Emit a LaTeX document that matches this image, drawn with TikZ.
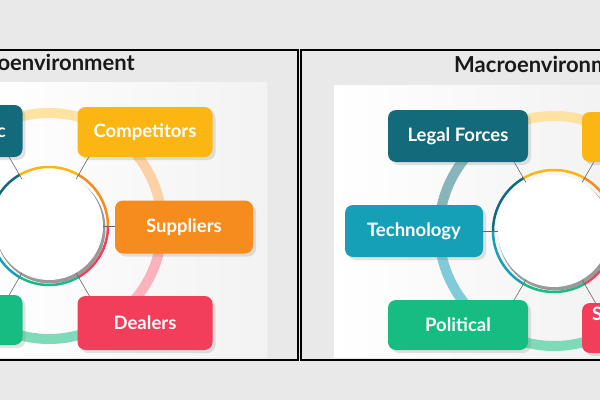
\documentclass[tikz,border=0pt]{standalone}
\usepackage{fontspec}
\setmainfont{Lato}
\usepackage{xcolor}
\usepackage{tikz}
\usetikzlibrary{shadows}

\definecolor{tealdark}{RGB}{18,106,122}
\definecolor{sunyellow}{RGB}{252,182,20}
\definecolor{orangebox}{RGB}{246,140,30}
\definecolor{redbox}{RGB}{242,62,90}
\definecolor{greenbox}{RGB}{22,188,130}
\definecolor{cyanbox}{RGB}{22,160,183}
\definecolor{bggray}{RGB}{233,233,233}

\begin{document}
\begin{tikzpicture}[x=1pt, y=1pt,
    box/.style = {rounded corners=8pt, minimum width=140pt, minimum height=52pt, inner sep=0pt,
                  text=white, font=\fontsize{18.5}{20}\selectfont\bfseries,
                  drop shadow={opacity=0.22, shadow xshift=3pt, shadow yshift=-3pt}},
    boxtext/.style = {text=white, font=\fontsize{18.5}{20}\selectfont\bfseries, inner sep=0pt},
    ring/.style = {line width=10pt},
    band/.style = {line width=2.5pt},
    link/.style = {draw=black!60, line width=0.6pt},
    hub/.style = {circle, fill=white, inner sep=0pt},
    frame/.style = {draw=black, line width=1.5pt, fill=bggray},
    title/.style = {font=\fontsize{22}{24}\selectfont\bfseries, text=black!90, inner sep=0pt}]
    \useasboundingbox (0,0) rectangle (600,400);
    \fill[bggray] (0,0) rectangle (600,400);

    % the two panels
    \draw[frame] (-10,40) rectangle (298,350);
    \draw[frame] (301,40) rectangle (610,350);
    \shade[left color=white, right color=black!5] (-10,43) rectangle (267,318);
    \shade[left color=white, right color=black!5] (334,43) rectangle (610,315);
    \node[title, anchor=base east] (titleL) at (135,330) {oenvironment};
    \node[title, anchor=base west] (titleR) at (454,327) {Macroenvironm};

    % left panel
    \coordinate (cL) at (49,174);
    \draw[ring, sunyellow!40] ([shift={(135:113)}]cL) arc[start angle=135, end angle=45, radius=113];
    \draw[ring, orangebox!40] ([shift={(45:113)}]cL) arc[start angle=45, end angle=0, radius=113];
    \draw[ring, redbox!40] ([shift={(0:113)}]cL) arc[start angle=0, end angle=-45, radius=113];
    \draw[ring, greenbox!55] ([shift={(-45:113)}]cL) arc[start angle=-45, end angle=-135, radius=113];
    \draw[ring, cyanbox!55] ([shift={(-135:113)}]cL) arc[start angle=-135, end angle=-180, radius=113];
    \draw[ring, tealdark!50] ([shift={(180:113)}]cL) arc[start angle=180, end angle=135, radius=113];
    \draw[band, sunyellow] ([shift={(120:59)}]cL) arc[start angle=120, end angle=60, radius=59];
    \draw[band, orangebox] ([shift={(60:59)}]cL) arc[start angle=60, end angle=0, radius=59];
    \draw[band, redbox] ([shift={(0:59)}]cL) arc[start angle=0, end angle=-60, radius=59];
    \draw[band, greenbox] ([shift={(-60:59)}]cL) arc[start angle=-60, end angle=-120, radius=59];
    \draw[band, cyanbox] ([shift={(-120:59)}]cL) arc[start angle=-120, end angle=-180, radius=59];
    \draw[band, tealdark] ([shift={(180:59)}]cL) arc[start angle=180, end angle=120, radius=59];
    \fill[black!40] ([shift={(1.5,-2.5)}]cL) circle[radius=55];
    \node[hub, minimum size=108pt] (hubL) at (cL) {};
    \draw[link] (hubL.60) -- ([shift={(60:90)}]cL);
    \draw[link] (hubL.120) -- ([shift={(120:90)}]cL);
    \draw[link] (hubL.0) -- ([shift={(0:80)}]cL);
    \draw[link] (hubL.-60) -- ([shift={(-60:90)}]cL);
    \draw[link] (hubL.-120) -- ([shift={(-120:90)}]cL);
    \node[box, fill=tealdark, minimum width=135pt] (publ) at (-45,269) {};
    \node[boxtext, anchor=base east] (publtxt) at (6,263) {c};
    \node[box, fill=sunyellow, minimum width=135pt, minimum height=50pt] (comp) at (145,268) {Competitors};
    \node[box, fill=orangebox, minimum width=138pt, minimum height=53pt] (supp) at (184,173) {Suppliers};
    \node[box, fill=redbox, minimum width=135pt, minimum height=54pt] (deal) at (145,77) {Dealers};
    \node[box, fill=greenbox, minimum width=135pt, minimum height=50pt] (cust) at (-45,80) {};

    % right panel
    \coordinate (cR) at (554,169);
    \draw[ring, sunyellow!40] ([shift={(135:115)}]cR) arc[start angle=135, end angle=45, radius=115];
    \draw[ring, orangebox!40] ([shift={(45:115)}]cR) arc[start angle=45, end angle=0, radius=115];
    \draw[ring, redbox!40] ([shift={(0:115)}]cR) arc[start angle=0, end angle=-45, radius=115];
    \draw[ring, greenbox!55] ([shift={(-45:115)}]cR) arc[start angle=-45, end angle=-135, radius=115];
    \draw[ring, cyanbox!55] ([shift={(-135:115)}]cR) arc[start angle=-135, end angle=-180, radius=115];
    \draw[ring, tealdark!50] ([shift={(180:115)}]cR) arc[start angle=180, end angle=135, radius=115];
    \draw[band, sunyellow] ([shift={(120:61)}]cR) arc[start angle=120, end angle=60, radius=61];
    \draw[band, orangebox] ([shift={(60:61)}]cR) arc[start angle=60, end angle=0, radius=61];
    \draw[band, redbox] ([shift={(0:61)}]cR) arc[start angle=0, end angle=-60, radius=61];
    \draw[band, greenbox] ([shift={(-60:61)}]cR) arc[start angle=-60, end angle=-120, radius=61];
    \draw[band, cyanbox] ([shift={(-120:61)}]cR) arc[start angle=-120, end angle=-180, radius=61];
    \draw[band, tealdark] ([shift={(180:61)}]cR) arc[start angle=180, end angle=120, radius=61];
    \fill[black!40] ([shift={(1.5,-2.5)}]cR) circle[radius=57];
    \node[hub, minimum size=112pt] (hubR) at (cR) {};
    \draw[link] (hubR.60) -- ([shift={(60:90)}]cR);
    \draw[link] (hubR.120) -- ([shift={(120:90)}]cR);
    \draw[link] (hubR.180) -- ([shift={(180:80)}]cR);
    \draw[link] (hubR.-60) -- ([shift={(-60:90)}]cR);
    \draw[link] (hubR.-120) -- ([shift={(-120:90)}]cR);
    \node[box, fill=tealdark] (legal) at (458,264) {Legal Forces};
    \node[box, fill=cyanbox, minimum width=138pt] (tech) at (414,169) {Technology};
    \node[box, fill=greenbox, minimum height=50pt] (poli) at (458,75) {Political};
    \node[box, fill=sunyellow, minimum height=50pt] (econ) at (652,263) {};
    \node[box, fill=redbox, minimum height=50pt] (soci) at (652,72) {};
    \node[boxtext, anchor=base west] (socitxt) at (592,80) {S};
\end{tikzpicture}
\end{document}
